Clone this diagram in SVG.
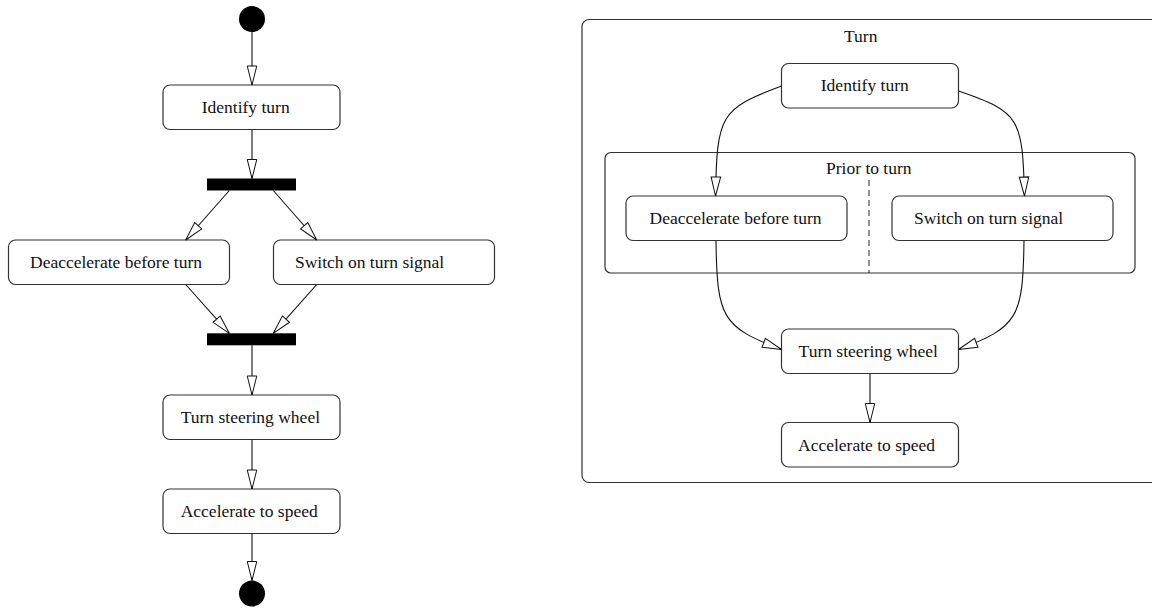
<svg xmlns="http://www.w3.org/2000/svg" width="1152" height="608" viewBox="0 0 1152 608">
<defs>
<style>
.node rect{fill:#fff;stroke:#333;stroke-width:1.2}
.cont rect{fill:none;stroke:#333;stroke-width:1.2}
text{font-family:"Liberation Serif","Times New Roman",serif;font-size:17.5px;fill:#111}
.edge{fill:none;stroke:#111;stroke-width:1.1;marker-end:url(#open)}
.bar{fill:#000}
.dot{fill:#000}
</style>
<marker id="open" markerUnits="userSpaceOnUse" markerWidth="22" markerHeight="12" refX="19" refY="4.75" orient="auto" viewBox="-1 -1 22 12">
<path d="M0,0 L19,4.75 L0,9.5 Z" fill="#fff" stroke="#111" stroke-width="1"/>
</marker>
</defs>
<rect width="1152" height="608" fill="#fff"/>

<!-- left activity diagram -->
<g id="start"><circle class="dot" cx="252" cy="19" r="13"/></g>
<g id="identify-left" class="node"><rect x="163" y="85" width="177" height="44.5" rx="7"/><text x="201.7" y="112.5">Identify turn</text></g>
<g id="fork"><rect class="bar" x="207" y="178.5" width="89" height="12"/></g>
<g id="deacc-left" class="node"><rect x="8.5" y="240" width="221" height="44.5" rx="7"/><text x="30" y="267.8">Deaccelerate before turn</text></g>
<g id="switch-left" class="node"><rect x="273.5" y="240" width="221" height="44.5" rx="7"/><text x="295" y="267.8">Switch on turn signal</text></g>
<g id="join"><rect class="bar" x="207" y="333.3" width="89" height="12"/></g>
<g id="steer-left" class="node"><rect x="163" y="395" width="177" height="44.5" rx="7"/><text x="180.7" y="423.3">Turn steering wheel</text></g>
<g id="accel-left" class="node"><rect x="163" y="489" width="177" height="44.5" rx="7"/><text x="180.7" y="516.8">Accelerate to speed</text></g>
<g id="end"><circle class="dot" cx="252" cy="593.5" r="13"/></g>

<!-- right state diagram -->
<g id="turn-state" class="cont"><rect x="582" y="19.5" width="590" height="463" rx="7"/><text x="844" y="41.7">Turn</text></g>
<g id="identify-right" class="node"><rect x="781.5" y="63.5" width="177" height="44.5" rx="7"/><text x="820.8" y="91">Identify turn</text></g>
<g id="prior-state" class="cont"><rect x="605" y="152.5" width="530" height="120.5" rx="6"/><text x="826" y="174">Prior to turn</text><line x1="869" y1="180" x2="869" y2="273" stroke="#222" stroke-width="1" stroke-dasharray="6,4"/></g>
<g id="deacc-right" class="node"><rect x="626" y="196" width="221" height="44.5" rx="7"/><text x="649.5" y="223.5">Deaccelerate before turn</text></g>
<g id="switch-right" class="node"><rect x="892" y="196" width="221" height="44.5" rx="7"/><text x="914" y="223.5">Switch on turn signal</text></g>
<g id="steer-right" class="node"><rect x="781.5" y="329" width="177" height="44.5" rx="7"/><text x="798.6" y="356.7">Turn steering wheel</text></g>
<g id="accel-right" class="node"><rect x="781.5" y="422.5" width="177" height="44.5" rx="7"/><text x="798" y="450.7">Accelerate to speed</text></g>

<g id="connectors">
<path class="edge" d="M252,32 V85"/>
<path class="edge" d="M252,129.5 V178.5"/>
<path class="edge" d="M229.3,190.5 L185.7,240"/>
<path class="edge" d="M273.3,190.5 L316.7,240"/>
<path class="edge" d="M185.7,284.5 L229.3,333.3"/>
<path class="edge" d="M316.7,284.5 L273.3,333.3"/>
<path class="edge" d="M252,345.3 V395"/>
<path class="edge" d="M252,439.5 V489"/>
<path class="edge" d="M252,533.5 V580.5"/>

<path class="edge" d="M781.5,86 C720,109 717,115 715.5,196"/>
<path class="edge" d="M958.5,91 C1020,112 1022.5,118 1024.5,196"/>
<path class="edge" d="M716,240.5 C717,318 722,327 781.5,349.5"/>
<path class="edge" d="M1024,240.5 C1023,318 1018,327 958.5,349.5"/>
<path class="edge" d="M870,373.5 V422.5"/>
</g>
</svg>
